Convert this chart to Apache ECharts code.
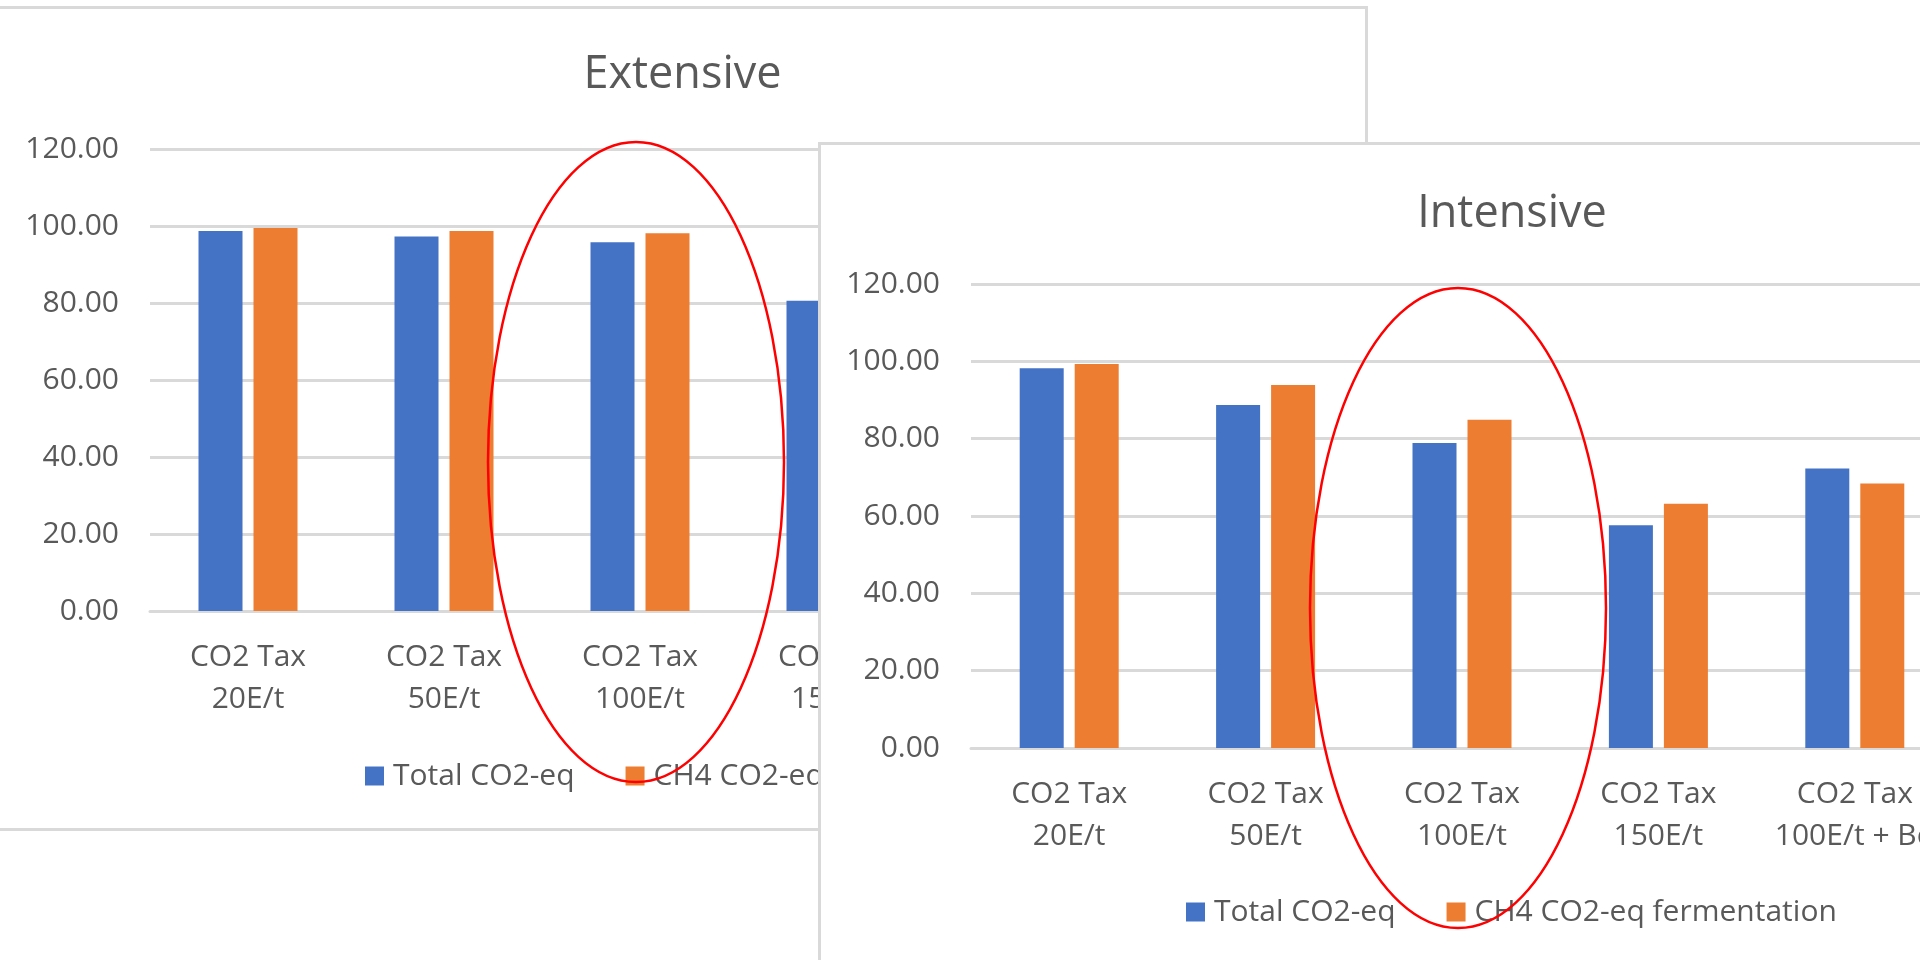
<!DOCTYPE html>
<html>
<head>
<meta charset="utf-8">
<script src="https://cdn.jsdelivr.net/npm/echarts@6/dist/echarts.min.js"></script>
<style>
  html, body { margin: 0; padding: 0; width: 1920px; height: 960px; overflow: hidden; background: #ffffff; }
  .panel { position: absolute; background: #ffffff; border: 3px solid #d9d9d9; }
  #ext { left: -3px; top: 6px; width: 1365px; height: 819px; }
  #int { left: 818px; top: 142px; width: 1382px; height: 900px; }
</style>
</head>
<body>
<div id="ext" class="panel"></div>
<div id="int" class="panel"></div>
<script>
// Scenario labels along the category axis
const categories = ['CO2 Tax\n20E/t', 'CO2 Tax\n50E/t', 'CO2 Tax\n100E/t', 'CO2 Tax\n150E/t', 'CO2 Tax\n100E/t + Bo'];
const seriesNames = ['Total CO2-eq', 'CH4 CO2-eq fermentation'];

// Extensive system (bars under the Intensive panel are left empty)
const extensiveTotal = [98.7, 97.3, 95.8, 80.6, null];
const extensiveCH4   = [99.5, 98.7, 98.1, null, null];

// Intensive system
const intensiveTotal = [98.2, 88.7, 78.9, 57.6, 72.3];
const intensiveCH4   = [99.3, 93.9, 84.9, 63.2, 68.4];

// Value axis ticks
const yMin = 0, yMax = 120, yStep = 20;

// Highlighted scenario and the level the ring is centred on
const highlightIndex = 2;
const ringCenterExt = 38.7;
const ringCenterInt = 36.2;

const FONT = '"Open Sans", "Noto Sans", sans-serif';
const GREY = '#595959';
const GRID_GREY = '#d9d9d9';

function buildPanel(el, title, total, ch4, gridPos, titleTop, ringValue) {
  const chart = echarts.init(el, null, { renderer: 'canvas' });
  chart.setOption({
    animation: false,
    backgroundColor: '#ffffff',
    textStyle: { fontFamily: FONT },
    title: {
      text: title,
      left: 'center',
      top: titleTop,
      textStyle: { fontFamily: FONT, fontSize: 45, fontWeight: 'normal', color: GREY, lineHeight: 54 }
    },
    legend: {
      data: seriesNames,
      left: 365,
      top: 748,
      padding: 0,
      icon: 'rect',
      itemWidth: 19,
      itemHeight: 19,
      itemGap: 51,
      textStyle: { fontFamily: FONT, fontSize: 30, color: GREY, lineHeight: 38, padding: [0, 0, 0, 4] }
    },
    grid: gridPos,
    xAxis: {
      type: 'category',
      data: categories,
      axisLine: { lineStyle: { color: GRID_GREY, width: 3 } },
      axisTick: { show: false },
      axisLabel: { interval: 0, fontFamily: FONT, fontSize: 30, lineHeight: 42, color: GREY, margin: 25 }
    },
    yAxis: {
      type: 'value',
      min: yMin,
      max: yMax,
      interval: yStep,
      axisLine: { show: false },
      axisTick: { show: false },
      splitLine: { lineStyle: { color: GRID_GREY, width: 3 } },
      axisLabel: {
        fontFamily: FONT, fontSize: 30, color: GREY, margin: 31,
        formatter: v => v.toFixed(2)
      }
    },
    series: [
      { name: seriesNames[0], type: 'bar', data: total, barWidth: 44, barGap: '25%', itemStyle: { color: '#4472C4' } },
      { name: seriesNames[1], type: 'bar', data: ch4, barWidth: 44, barGap: '25%', itemStyle: { color: '#ED7D31' } }
    ]
  });

  // Red ring around the highlighted scenario
  const c = chart.convertToPixel({ seriesIndex: 0 }, [highlightIndex, ringValue]);
  chart.setOption({
    graphic: [{
      type: 'ellipse',
      shape: { cx: c[0] - 4, cy: c[1], rx: 148, ry: 320 },
      style: { fill: 'none', stroke: '#ff0000', lineWidth: 2.5 },
      z: 100
    }]
  });
  return chart;
}

buildPanel(document.getElementById('ext'), 'Extensive', extensiveTotal, extensiveCH4,
  { left: 150, right: 235, top: 140, bottom: 217 }, 34, ringCenterExt);
buildPanel(document.getElementById('int'), 'Intensive', intensiveTotal, intensiveCH4,
  { left: 150, right: 250, top: 139, bottom: 297 }, 37, ringCenterInt);
</script>
</body>
</html>
